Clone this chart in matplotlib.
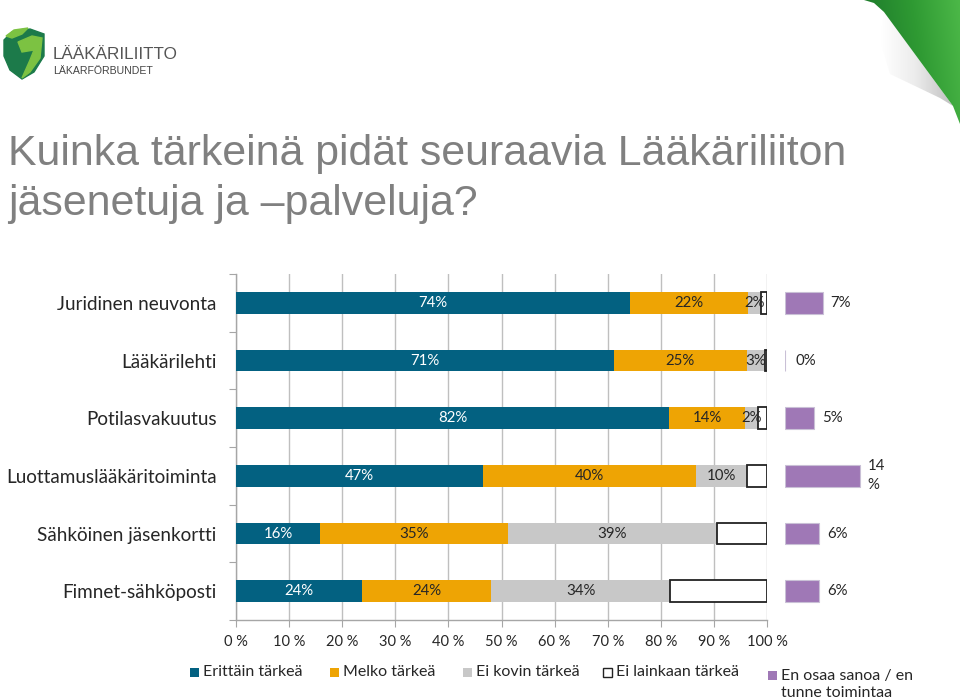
import numpy as np
import matplotlib
matplotlib.use("Agg")
import matplotlib.pyplot as plt
from matplotlib.patches import Rectangle, Polygon
from matplotlib.colors import LinearSegmentedColormap

# ---------------- data ----------------
categories = ["Juridinen neuvonta", "Lääkärilehti", "Potilasvakuutus",
              "Luottamuslääkäritoiminta", "Sähköinen jäsenkortti", "Fimnet-sähköposti"]
series_names = ["Erittäin tärkeä", "Melko tärkeä", "Ei kovin tärkeä",
                "Ei lainkaan tärkeä", "En osaa sanoa / en\ntunne toimintaa"]
erittain = [74.2, 71.2, 81.5, 46.6, 15.9, 23.8]
melko = [22.2, 25.0, 14.4, 40.1, 35.3, 24.3]
ei_kovin = [2.4, 3.4, 2.4, 9.6, 39.4, 33.6]
ei_lainkaan = [1.2, 0.4, 1.7, 3.7, 9.4, 18.3]
en_osaa = [7.1, 0.0, 5.4, 14.1, 6.4, 6.4]
xticks = [0, 10, 20, 30, 40, 50, 60, 70, 80, 90, 100]

# ---------------- style ----------------
W, H = 960, 700
C_TEAL = "#036181"
C_ORANGE = "#eea404"
C_GREY = "#c8c8c8"
C_WHITE = "#ffffff"
C_PURPLE = "#9f78b6"
TXT = "#262626"
FONT = "Lato"

plt.rcParams["font.family"] = [FONT, "DejaVu Sans"]

fig = plt.figure(figsize=(W / 100, H / 100), dpi=100)
fig.patch.set_facecolor("white")

def fx(px):
    return px / W

def fy(py):
    return 1 - py / H

# ---------------- title ----------------
fig.text(fx(8), fy(165), "Kuinka tärkeinä pidät seuraavia Lääkäriliiton",
         fontsize=30.9, color="#808080", family="Liberation Sans", ha="left", va="baseline")
fig.text(fx(8), fy(215), "jäsenetuja ja –palveluja?",
         fontsize=30.9, color="#808080", family="Liberation Sans", ha="left", va="baseline")

# ---------------- background layer: logo + page curl ----------------
bg = fig.add_axes([0, 0, 1, 1], zorder=-1)
bg.set_xlim(0, W); bg.set_ylim(H, 0); bg.axis("off")

# logo shield
bg.add_patch(Polygon([(4, 40), (12, 32), (30, 29), (44, 34), (44, 56), (34, 72), (22, 79), (10, 70), (4, 56)],
                     closed=True, color="#1c7a4a"))
bg.add_patch(Polygon([(18, 42), (32, 36), (42, 38), (40, 58), (30, 72), (22, 78), (30, 60), (34, 50), (22, 52)],
                     closed=True, color="#7cc242"))
bg.add_patch(Polygon([(6, 36), (14, 30), (28, 28), (22, 34), (12, 38)], closed=True, color="#7cc242"))
fig.text(fx(53), fy(59), "LÄÄKÄRILIITTO", fontsize=12.3, color="#555555",
         family="Liberation Sans", ha="left", va="baseline")
fig.text(fx(53), fy(74), "LÄKARFÖRBUNDET", fontsize=7.6, color="#444444",
         family="Liberation Sans", ha="left", va="baseline")

# page curl: green gradient flap
green = Polygon([(864, 0), (960, 0), (960, 124), (953, 106), (884, 12), (874, 3)],
                closed=True, facecolor="none", edgecolor="none")
bg.add_patch(green)
gx, gy = np.meshgrid(np.linspace(0, 1, 200), np.linspace(0, 1, 200))
grad = np.clip((gx - gy * 0.2), 0, 1)
gcmap = LinearSegmentedColormap.from_list("g", ["#1f7d2c", "#2f9a33", "#4cb848"])
im = bg.imshow(grad, extent=(864, 960, 124, 0), cmap=gcmap, aspect="auto", zorder=2)
im.set_clip_path(green)
# underside of the curl (grey fading to white)
curlp = Polygon([(884, 12), (953, 106), (940, 98), (890, 74), (880, 40)], closed=True,
                facecolor="none", edgecolor="none")
bg.add_patch(curlp)
cgrad = np.clip(gx * 1.1 - 0.05, 0, 1)
ccmap = LinearSegmentedColormap.from_list("c", ["#ffffff", "#ececec", "#c4c4c4"])
im2 = bg.imshow(cgrad, extent=(878, 953, 106, 12), cmap=ccmap, aspect="auto", zorder=1)
im2.set_clip_path(curlp)

# ---------------- main axes ----------------
top, bottom = 274, 620
ax = fig.add_axes([fx(236), fy(bottom), fx(767 - 236), (bottom - top) / H])
y = np.arange(len(categories))
bh = 0.38
series = [erittain, melko, ei_kovin, ei_lainkaan]
colors = [C_TEAL, C_ORANGE, C_GREY, C_WHITE]
left = np.zeros(len(categories))
for k, (vals, col) in enumerate(zip(series, colors)):
    vals = np.array(vals)
    if col == C_WHITE:
        ax.barh(y, vals, left=left, height=bh, color=col, edgecolor="#222222",
                linewidth=1.3, zorder=3)
    else:
        ax.barh(y, vals, left=left, height=bh, color=col, edgecolor="none", zorder=3)
        for yi, v, l in zip(y, vals, left):
            ax.text(l + v / 2, yi, f"{round(v):d}%", ha="center", va="center",
                    fontsize=10.8, color=("white" if col == C_TEAL else TXT), zorder=5)
    left = left + vals

ax.set_xlim(0, 100)
ax.set_ylim(len(categories) - 0.5, -0.5)
ax.set_xticks(xticks)
ax.set_xticklabels([f"{t} %" for t in xticks], fontsize=10.5, color=TXT)
ax.set_yticks(np.arange(len(categories) + 1) - 0.5)
ax.set_yticklabels([])
ax.set_yticks(y, minor=True)
ax.set_yticklabels(categories, minor=True, fontsize=13.6, color=TXT)
ax.tick_params(axis="y", which="major", length=5, color="#a6a6a6", direction="out")
ax.tick_params(axis="y", which="minor", length=0, pad=14)
ax.tick_params(axis="x", length=5, color="#a6a6a6", direction="out", pad=6)
ax.grid(axis="x", color="#bfbfbf", linewidth=1, zorder=0)
ax.set_axisbelow(True)
for s in ["top", "right"]:
    ax.spines[s].set_visible(False)
for s in ["left", "bottom"]:
    ax.spines[s].set_color("#a6a6a6")
    ax.spines[s].set_linewidth(1)

# ---------------- "En osaa sanoa" axes ----------------
scale = (767 - 236) / 100.0  # px per percent
w2 = 175
ax2 = fig.add_axes([fx(785), fy(bottom), fx(w2), (bottom - top) / H])
ax2.set_xlim(0, w2 / scale)
ax2.set_ylim(len(categories) - 0.5, -0.5)
ax2.axis("off")
ax2.barh(y, en_osaa, height=bh, color=C_PURPLE, edgecolor="#c9c0d6", linewidth=0.8)
for yi, v in zip(y, en_osaa):
    lab = f"{round(v):d}%"
    if v >= 10:
        lab = f"{round(v):d}\n%"
    ax2.text(v + (8 if v > 0 else 10) / scale, yi, lab, ha="left", va="center",
             fontsize=10.8, color=TXT, linespacing=1.45)

# ---------------- legend ----------------
leg_y = 672
leg_items = [(190, C_TEAL, "none"), (330, C_ORANGE, "none"), (463, C_GREY, "none"),
             (603, C_WHITE, "#222222"), (768, C_PURPLE, "none")]
for (x0, col, ec), name in zip(leg_items, series_names):
    multi = "\n" in name
    cy = leg_y + (3 if multi else 0)
    fig.patches.append(Rectangle((fx(x0), fy(cy + 5)), fx(9), 9 / H, transform=fig.transFigure,
                                 facecolor=col, edgecolor=ec, linewidth=1))
    if multi:
        fig.text(fx(x0 + 13), fy(cy - 6), name, fontsize=11.5, color=TXT, ha="left", va="top",
                 linespacing=1.25)
    else:
        fig.text(fx(x0 + 13), fy(cy), name, fontsize=11.5, color=TXT, ha="left", va="center")

fig.savefig("out.png", dpi=100, facecolor="white")
